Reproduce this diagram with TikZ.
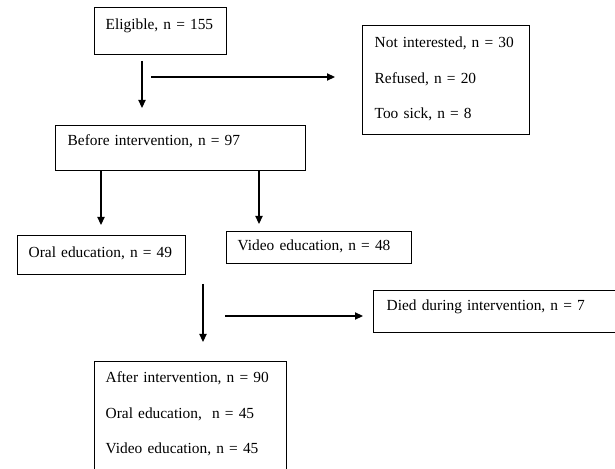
\documentclass[tikz,border=0pt]{standalone}
\usepackage{fontspec}
\setmainfont{Liberation Serif}
\usetikzlibrary{arrows.meta}

\begin{document}
\begin{tikzpicture}[font=\fontsize{10.95pt}{25.2pt}\selectfont,
    box/.style={draw, line width=1pt, anchor=north west, align=left, inner ysep=0pt},
    flow/.style={-{Triangle[length=0.2cm,width=0.18cm]}, line width=0.9pt}]
    \useasboundingbox (0,0) rectangle (15.375,-11.725);
    \clip (0,0) rectangle (15.375,-11.725);
    \node [box, inner xsep=0.275cm, text width=2.75cm, text height=0.55cm, text depth=0.625cm] (elig) at (2.35,-0.175) {Eligible,~n~=~155};
    \node [box, inner xsep=0.3cm, text width=3.575cm, text height=0.55cm, text depth=2.175cm] (excl) at (9.05,-0.625) {Not~interested,~n~=~30\\Refused,~n~=~20\\Too~sick,~n~=~8};
    \node [box, inner xsep=0.3cm, text width=5.65cm, text height=0.5cm, text depth=0.625cm] (before) at (1.375,-3.125) {Before~intervention,~n~=~97};
    \node [box, inner xsep=0.275cm, text width=3.65cm, text height=0.55cm, text depth=0.425cm] (oral) at (0.425,-5.875) {Oral~education,~n~=~49};
    \node [box, inner xsep=0.275cm, text width=4.075cm, text height=0.475cm, text depth=0.325cm] (video) at (5.65,-5.775) {Video~education,~n~=~48};
    \node [box, inner xsep=0.325cm, text width=5.6cm, text height=0.5cm, text depth=0.55cm] (died) at (9.325,-7.25) {Died~during~intervention,~n~=~7};
    \node [box, inner xsep=0.275cm, text width=4.25cm, text height=0.525cm, text depth=2.55cm] (after) at (2.35,-9.025) {After~intervention,~n~=~90\\Oral~education,~~n~=~45\\Video~education,~n~=~45};
    % free arrow ends
    \coordinate (eligDown) at (3.55,-1.525);
    \coordinate (eligEnd) at (3.55,-2.7);
    \coordinate (exclStart) at (3.775,-1.925);
    \coordinate (exclEnd) at (8.375,-1.925);
    \coordinate (oralEnd) at (2.525,-5.625);
    \coordinate (videoEnd) at (6.475,-5.6);
    \coordinate (midDown) at (5.075,-7.1);
    \coordinate (afterEnd) at (5.075,-8.55);
    \coordinate (diedStart) at (5.625,-7.9);
    \coordinate (diedEnd) at (9.075,-7.9);
    \draw [flow] (eligDown) -- (eligEnd);
    \draw [flow] (exclStart) -- (exclEnd);
    \draw [flow] (before.south -| oralEnd) -- (oralEnd);
    \draw [flow] (before.south -| videoEnd) -- (videoEnd);
    \draw [flow] (midDown) -- (afterEnd);
    \draw [flow] (diedStart) -- (diedEnd);
\end{tikzpicture}
\end{document}
